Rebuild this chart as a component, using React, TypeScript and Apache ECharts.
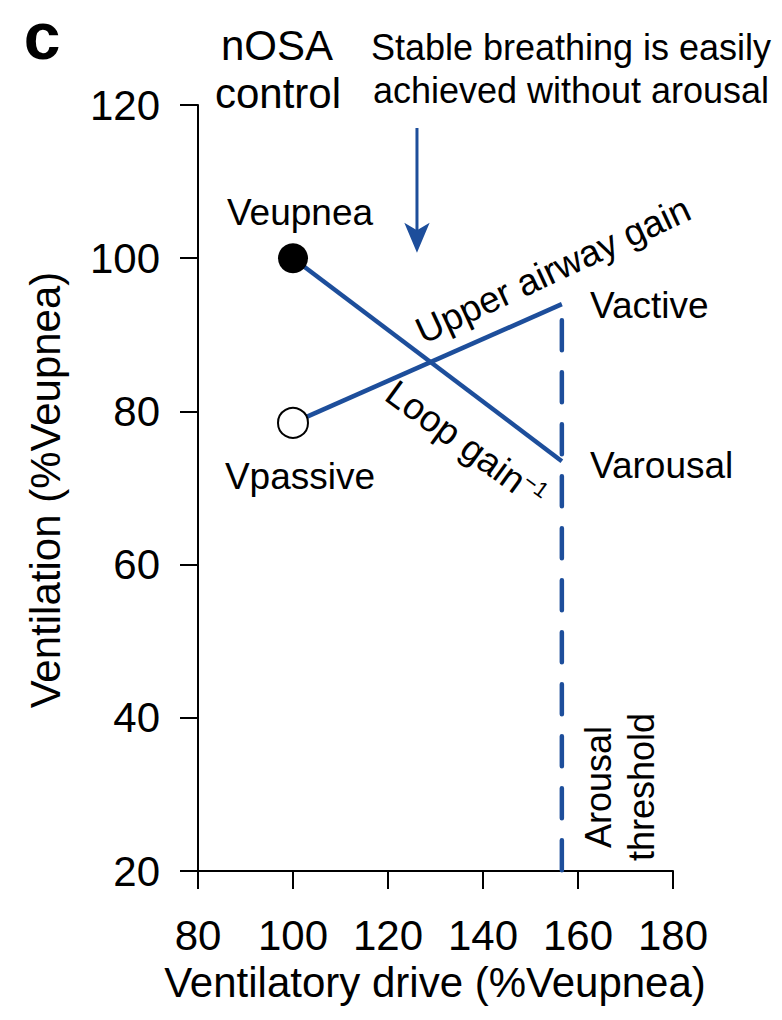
import React, { useEffect, useRef } from "react";
import * as echarts from "echarts";

// ---- data ----
const xTicks = [80, 100, 120, 140, 160, 180];
const yTicks = [20, 40, 60, 80, 100, 120];
const veupnea: [number, number] = [100, 100];
const vpassive: [number, number] = [100, 78.5];
const vactive: [number, number] = [156.6, 94];
const varousal: [number, number] = [156.6, 73.5];
const thresholdX = 156.6;
const thresholdTop = 91.9;
const thresholdBottom = 20;
const arrowShaft: [number, number][] = [
  [126.1, 117],
  [126.1, 101.5],
];
const arrowHead: [number, number] = [126.1, 100.7];

const BLUE = "#1d4e9b";
const FONT = "'Liberation Sans', Arial, Helvetica, sans-serif";

export default function App() {
  const ref = useRef<HTMLDivElement>(null);
  useEffect(() => {
    if (!ref.current) return;
    const chart = echarts.init(ref.current, undefined, { renderer: "svg" });
    const txt = (text: string, x: number, y: number, size: number, extra: any = {}) => ({
      type: "text",
      x,
      y,
      rotation: extra.rotation || 0,
      style: {
        text,
        fontSize: size,
        fontFamily: FONT,
        fontWeight: extra.fontWeight || "normal",
        fill: "#000",
        align: extra.align || "center",
        verticalAlign: "middle",
        lineHeight: extra.lineHeight,
      },
    });
    chart.setOption({
      animation: false,
      grid: { left: 198, right: 109, top: 105, bottom: 149 },
      xAxis: {
        type: "value",
        min: xTicks[0],
        max: xTicks[xTicks.length - 1],
        interval: 20,
        axisLine: { show: true, lineStyle: { color: "#000", width: 2 } },
        axisTick: { show: true, length: 18, lineStyle: { color: "#000", width: 2 } },
        axisLabel: { fontSize: 42, color: "#000", fontFamily: FONT, margin: 43 },
        splitLine: { show: false },
      },
      yAxis: {
        type: "value",
        min: yTicks[0],
        max: yTicks[yTicks.length - 1],
        interval: 20,
        axisLine: { show: true, lineStyle: { color: "#000", width: 2 } },
        axisTick: { show: true, length: 18, lineStyle: { color: "#000", width: 2 } },
        axisLabel: { fontSize: 42, color: "#000", fontFamily: FONT, margin: 38 },
        splitLine: { show: false },
      },
      series: [
        {
          type: "line",
          name: "Loop gain",
          data: [veupnea, varousal],
          symbol: "none",
          lineStyle: { color: BLUE, width: 4.5 },
          z: 2,
        },
        {
          type: "line",
          name: "Upper airway gain",
          data: [vpassive, vactive],
          symbol: "none",
          lineStyle: { color: BLUE, width: 4.5 },
          z: 2,
        },
        {
          type: "line",
          name: "Arousal threshold",
          data: [
            [thresholdX, thresholdTop],
            [thresholdX, thresholdBottom],
          ],
          symbol: "none",
          lineStyle: { color: BLUE, width: 4.5, type: [30, 22], cap: "round" },
          z: 2,
        },
        {
          type: "line",
          name: "arrow shaft",
          data: arrowShaft,
          symbol: "none",
          lineStyle: { color: BLUE, width: 3 },
          z: 2,
        },
        {
          type: "scatter",
          name: "arrow head",
          data: [arrowHead],
          symbol: "arrow",
          symbolSize: [19, 30],
          symbolRotate: 180,
          itemStyle: { color: BLUE, opacity: 1 },
          z: 3,
        },
        {
          type: "scatter",
          name: "Veupnea",
          data: [veupnea],
          symbolSize: 30,
          itemStyle: { color: "#000", opacity: 1 },
          z: 5,
        },
        {
          type: "scatter",
          name: "Vpassive",
          data: [vpassive],
          symbolSize: 30,
          itemStyle: { color: "#fff", borderColor: "#000", borderWidth: 2, opacity: 1 },
          z: 5,
        },
      ],
      graphic: [
        txt("c", 42, 36, 66, { fontWeight: "bold" }),
        txt("nOSA", 277, 45, 42),
        txt("control", 278, 93, 42),
        txt("Stable breathing is easily", 571, 47, 36),
        txt("achieved without arousal", 571, 90, 36),
        txt("Veupnea", 300, 212, 37),
        txt("Vpassive", 300, 476, 37),
        txt("Vactive", 590, 305, 37, { align: "left" }),
        txt("Varousal", 590, 465, 37, { align: "left" }),
        txt("Upper airway gain", 553, 270, 37, { rotation: (25 * Math.PI) / 180 }),
        {
          type: "text",
          x: 466,
          y: 444,
          rotation: (-36 * Math.PI) / 180,
          style: {
            text: "{a|Loop gain}{b|−1}",
            fontFamily: FONT,
            fill: "#000",
            align: "center",
            verticalAlign: "middle",
            rich: {
              a: { fontSize: 37, fontFamily: FONT, fill: "#000", verticalAlign: "bottom" },
              b: { fontSize: 22, fontFamily: FONT, fill: "#000", verticalAlign: "top" },
            },
          },
        },
        txt("Arousal\nthreshold", 620, 787, 36, { rotation: Math.PI / 2, lineHeight: 43 }),
        txt("Ventilation (%Veupnea)", 45, 490, 42, { rotation: Math.PI / 2 }),
        txt("Ventilatory drive (%Veupnea)", 435, 982, 42),
      ],
    });
    return () => chart.dispose();
  }, []);
  return (
    <div
      ref={ref}
      style={{ position: "fixed", left: 0, top: 0, width: 782, height: 1020, background: "#fff" }}
    />
  );
}
